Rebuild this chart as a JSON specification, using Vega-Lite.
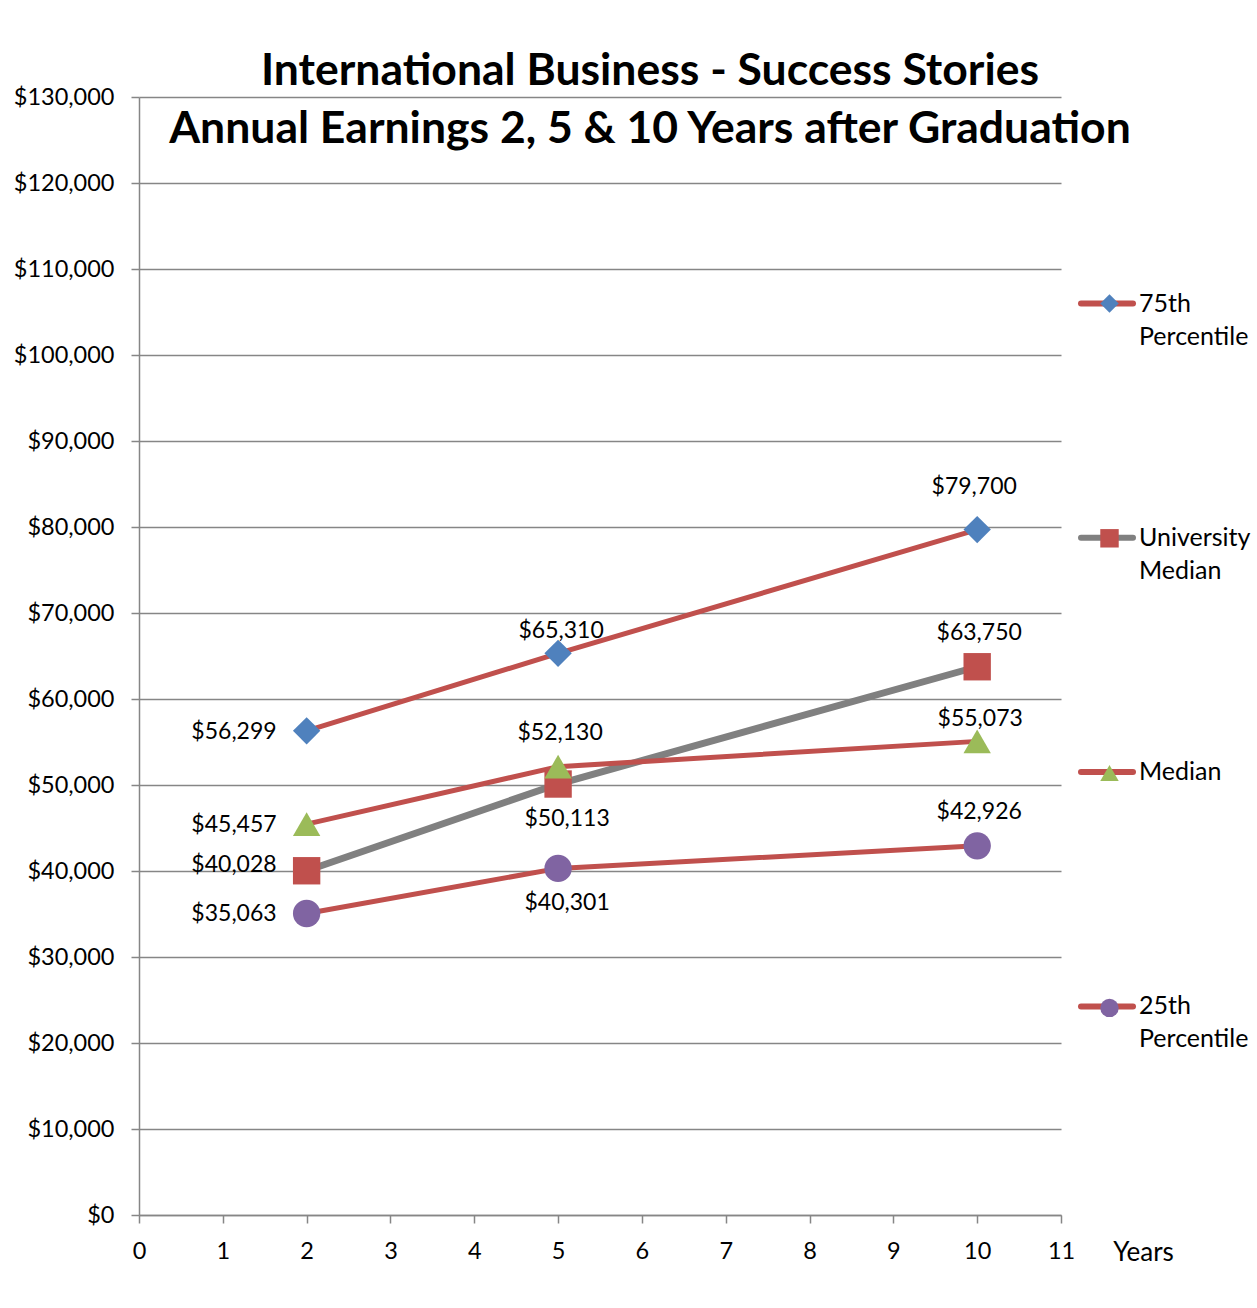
{
  "$schema": "https://vega.github.io/schema/vega-lite/v6.json",
  "width": 922,
  "height": 1118,
  "autosize": "none",
  "padding": {"left": 139, "top": 97, "right": 196, "bottom": 93},
  "background": "white",
  "config": {
    "font": "Lato",
    "view": {"stroke": null},
    "axis": {
      "domainColor": "#868686",
      "domainWidth": 1.5,
      "tickColor": "#868686",
      "tickWidth": 1.5,
      "tickSize": 8,
      "gridColor": "#868686",
      "gridWidth": 1.3,
      "labelColor": "black",
      "labelFontSize": 23.5,
      "labelFont": "Lato",
      "labelFlush": false,
      "labelOverlap": false
    }
  },
  "title": {
    "text": ["International Business - Success Stories", "Annual Earnings 2, 5 & 10 Years after Graduation"],
    "font": "Lato",
    "fontSize": 44.5,
    "fontWeight": "bold",
    "color": "black",
    "lineHeight": 58,
    "anchor": "middle",
    "frame": "group",
    "dx": 50,
    "offset": -67
  },
  "data": {
    "values": [
      {"series": "75th Percentile", "year": 2, "earnings": 56299},
      {"series": "75th Percentile", "year": 5, "earnings": 65310},
      {"series": "75th Percentile", "year": 10, "earnings": 79700},
      {"series": "University Median", "year": 2, "earnings": 40028},
      {"series": "University Median", "year": 5, "earnings": 50113},
      {"series": "University Median", "year": 10, "earnings": 63750},
      {"series": "Median", "year": 2, "earnings": 45457},
      {"series": "Median", "year": 5, "earnings": 52130},
      {"series": "Median", "year": 10, "earnings": 55073},
      {"series": "25th Percentile", "year": 2, "earnings": 35063},
      {"series": "25th Percentile", "year": 5, "earnings": 40301},
      {"series": "25th Percentile", "year": 10, "earnings": 42926}
    ]
  },
  "encoding": {
    "x": {
      "field": "year",
      "type": "quantitative",
      "scale": {"domain": [0, 11], "nice": false, "zero": false},
      "axis": {
        "values": [0, 1, 2, 3, 4, 5, 6, 7, 8, 9, 10, 11],
        "format": "d",
        "grid": false,
        "labelPadding": 16,
        "title": "Years",
        "titleFont": "Lato",
        "titleFontSize": 26,
        "titleFontWeight": "normal",
        "titleColor": "black",
        "titleX": 1004,
        "titleY": 37,
        "titleAlign": "center",
        "titleBaseline": "middle"
      }
    },
    "y": {
      "field": "earnings",
      "type": "quantitative",
      "scale": {"domain": [0, 130000], "nice": false},
      "axis": {
        "values": [0, 10000, 20000, 30000, 40000, 50000, 60000, 70000, 80000, 90000, 100000, 110000, 120000, 130000],
        "format": "$,.0f",
        "grid": true,
        "labelPadding": 17,
        "title": null
      }
    }
  },
  "layer": [
    {
      "mark": {"type": "line", "strokeCap": "butt"},
      "encoding": {
        "stroke": {
          "field": "series",
          "type": "nominal",
          "sort": ["75th Percentile", "University Median", "Median", "25th Percentile"],
          "scale": {"range": ["#C0504D", "#808080", "#C0504D", "#C0504D"]},
          "legend": {
            "orient": "none",
            "legendX": 939,
            "legendY": 177.5,
            "title": null,
            "padding": 0,
            "symbolType": "stroke",
            "symbolSize": 2704,
            "symbolStrokeWidth": 6,
            "labelFont": "Lato",
            "labelFontSize": 25,
            "labelColor": "black",
            "labelOffset": 3,
            "labelLimit": 400,
            "labelExpr": "datum.label == 'Median' ? ['Median', ''] : split(datum.label, ' ')",
            "rowPadding": 159.3,
            "encode": {
              "symbols": {"update": {"strokeCap": {"value": "round"}}},
              "labels": {"update": {"lineHeight": {"value": 33}}}
            }
          }
        },
        "strokeWidth": {
          "condition": {"test": "datum.series == 'University Median'", "value": 7},
          "value": 5
        }
      }
    },
    {
      "mark": {"type": "point", "filled": true, "opacity": 1, "size": 750, "strokeWidth": 0},
      "encoding": {
        "fill": {
          "field": "series",
          "type": "nominal",
          "scale": {
            "domain": ["75th Percentile", "University Median", "Median", "25th Percentile"],
            "range": ["#4F81BD", "#C0504D", "#9BBB59", "#8064A2"]
          },
          "legend": {
            "orient": "none",
            "legendX": 958,
            "legendY": 194,
            "title": null,
            "padding": 0,
            "symbolSize": 340,
            "symbolStrokeWidth": 0,
            "labelFont": "Lato",
            "labelFontSize": 25,
            "labelLimit": 400,
            "labelExpr": "''",
            "rowPadding": 208.8
          }
        },
        "shape": {
          "field": "series",
          "type": "nominal",
          "scale": {
            "domain": ["75th Percentile", "University Median", "Median", "25th Percentile"],
            "range": ["diamond", "square", "triangle-up", "circle"]
          },
          "legend": {
            "orient": "none",
            "legendX": 958,
            "legendY": 194,
            "title": null,
            "padding": 0,
            "symbolSize": 340,
            "symbolStrokeWidth": 0,
            "labelFont": "Lato",
            "labelFontSize": 25,
            "labelLimit": 400,
            "labelExpr": "''",
            "rowPadding": 208.8
          }
        }
      }
    },
    {
      "transform": [{"filter": "datum.year == 2 && datum.series != 'University Median'"}],
      "mark": {"type": "text", "align": "right", "baseline": "middle", "dx": -30, "dy": 1, "fontSize": 23, "font": "Lato", "color": "black"},
      "encoding": {"text": {"field": "earnings", "type": "quantitative", "format": "$,.0f"}}
    },
    {
      "transform": [{"filter": "datum.year == 2 && datum.series == 'University Median'"}],
      "mark": {"type": "text", "align": "right", "baseline": "middle", "dx": -30, "dy": -6, "fontSize": 23, "font": "Lato", "color": "black"},
      "encoding": {"text": {"field": "earnings", "type": "quantitative", "format": "$,.0f"}}
    },
    {
      "transform": [{"filter": "datum.year == 10 && datum.series == '75th Percentile'"}],
      "mark": {"type": "text", "align": "center", "baseline": "middle", "dx": -3, "dy": -43, "fontSize": 23, "font": "Lato", "color": "black"},
      "encoding": {"text": {"field": "earnings", "type": "quantitative", "format": "$,.0f"}}
    },
    {
      "transform": [{"filter": "(datum.year == 10 && (datum.series == 'University Median' || datum.series == '25th Percentile')) || (datum.year == 5 && datum.series == 'Median')"}],
      "mark": {"type": "text", "align": "center", "baseline": "middle", "dx": 2, "dy": -34, "fontSize": 23, "font": "Lato", "color": "black"},
      "encoding": {"text": {"field": "earnings", "type": "quantitative", "format": "$,.0f"}}
    },
    {
      "transform": [{"filter": "(datum.year == 5 && datum.series == '75th Percentile') || (datum.year == 10 && datum.series == 'Median')"}],
      "mark": {"type": "text", "align": "center", "baseline": "middle", "dx": 3, "dy": -22, "fontSize": 23, "font": "Lato", "color": "black"},
      "encoding": {"text": {"field": "earnings", "type": "quantitative", "format": "$,.0f"}}
    },
    {
      "transform": [{"filter": "datum.year == 5 && (datum.series == 'University Median' || datum.series == '25th Percentile')"}],
      "mark": {"type": "text", "align": "center", "baseline": "middle", "dx": 9, "dy": 35, "fontSize": 23, "font": "Lato", "color": "black"},
      "encoding": {"text": {"field": "earnings", "type": "quantitative", "format": "$,.0f"}}
    }
  ]
}
